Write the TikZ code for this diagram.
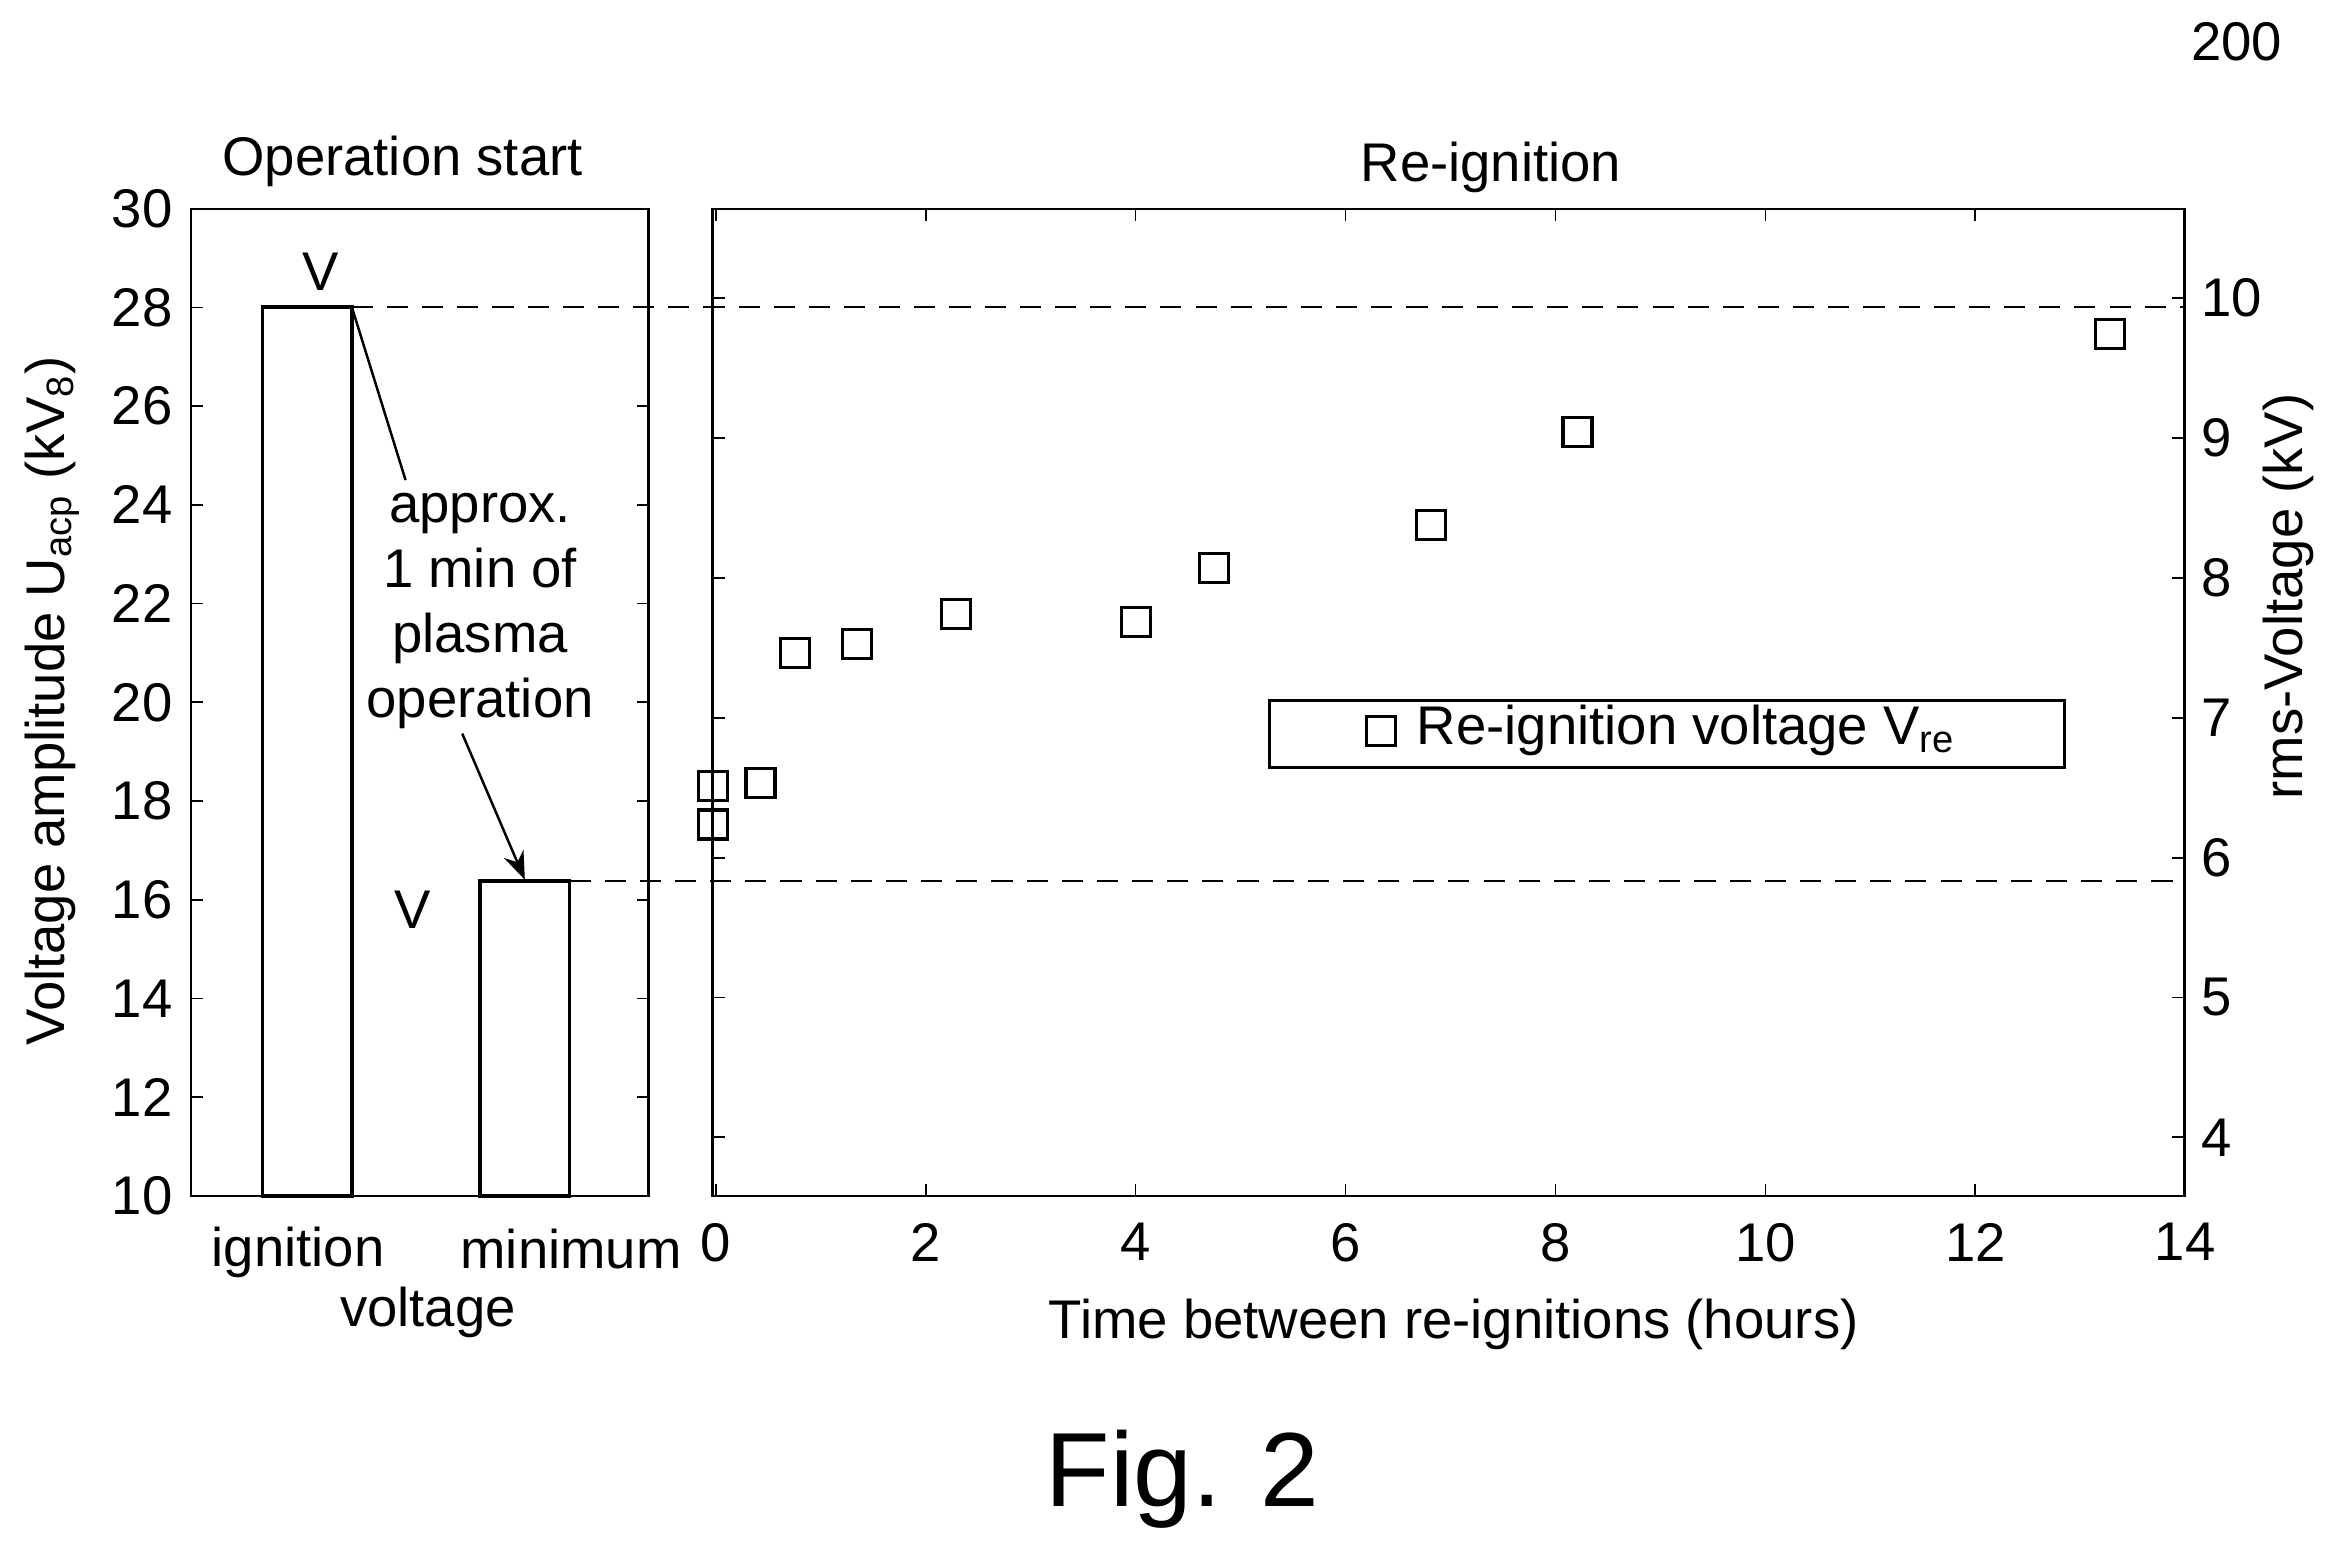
\documentclass[tikz,border=0pt]{standalone}
\usepackage{fontspec}
\setmainfont{Liberation Sans}
\usetikzlibrary{arrows.meta}
\begin{document}
\begin{tikzpicture}[x=0.01491cm,y=-0.01491cm,font=\fontsize{15.5}{18.5}\selectfont]
  \tikzset{
    frame/.style={line width=0.7pt},
    bar/.style={line width=1pt},
    guide/.style={dashed,line width=0.5pt,dash pattern=on 6pt off 4pt},
    pt/.style={draw,line width=0.9pt,minimum size=0.29cm,inner sep=0pt,rectangle},
    tick/.style={line width=0.5pt}
  }
  \useasboundingbox (0,0) rectangle (1560,1035);
  % frames
  \draw[frame] (128,140) rectangle (435,802);
  \draw[frame] (478,140) rectangle (1465,802);
  % left axis ticks and labels
  \foreach \v in {10,12,...,30}{
    \draw[tick] (128,{802-(\v-10)*33.1}) -- ++(8,0);
    \draw[tick] (435,{802-(\v-10)*33.1}) -- ++(-8,0);
    \node[anchor=east] (l\v) at (124,{802-(\v-10)*33.1}) {\v};
  }
  % bottom axis ticks and labels
  \foreach \t in {0,2,...,14}{
    \draw[tick] ({480+\t*70.4},802) -- ++(0,-8);
    \draw[tick] ({480+\t*70.4},140) -- ++(0,8);
    \node[anchor=north] (b\t) at ({480+\t*70.4},812) {\t};
  }
  % right axis ticks and labels
  \foreach \r in {4,...,10}{
    \draw[tick] (1465,{200+(10-\r)*93.8}) -- ++(-8,0);
    \draw[tick] (478,{200+(10-\r)*93.8}) -- ++(8,0);
    \node[anchor=west] (r\r) at (1468,{200+(10-\r)*93.8}) {\r};
  }
  % bars
  \draw[bar] (176,802) rectangle (236,206);
  \draw[bar] (322,802) rectangle (382,591);
  % dashed guides
  \draw[guide] (236,206) -- (1465,206);
  \draw[guide] (382,591) -- (1465,591);
  % data points
  \foreach \x/\y in {478/527,478/553,510/525,533/438,575/432,641/412,762/417,814/381,960/352,1058/290,1415/224}
    \node[pt] at (\x,\y) {};
  % legend
  \node[draw,line width=0.8pt,minimum width=7.95cm,minimum height=0.67cm] (leg) at (1118,492) {};
  \node[pt] (legpt) at (926,490) {};
  \node[anchor=west] (legtxt) at (942,490) {Re-ignition voltage V\textsubscript{re}};
  % titles and axis labels
  \node (opstart) at (270,108) {Operation start};
  \node (reign) at (1000,112) {Re-ignition};
  \node (num) at (1500,28) {200};
  \node[rotate=90] (ylab) at (35,470) {Voltage amplitude U\textsubscript{acp} (kV\textsubscript{8})};
  \node[rotate=90] (rlab) at (1535,400) {rms-Voltage (kV)};
  \node (xlab) at (975,888) {Time between re-ignitions (hours)};
  \node (ign) at (200,840) {ignition};
  \node (mini) at (383,838) {minimum};
  \node (volt) at (287,880) {voltage};
  \node (v1) at (215,182) {V};
  \node (v2) at (277,610) {V};
  \node[align=center] (note) at (322,410) {approx.\\1 min of\\plasma\\operation};
  \node[font=\fontsize{30}{34}\selectfont] (fig) at (793,992) {Fig. 2};
  % annotation connectors
  \coordinate (top1) at (236,206);
  \coordinate (end1) at (272,322);
  \coordinate (start2) at (310,492);
  \coordinate (top2) at (352,590);
  \draw[line width=0.7pt] (top1) -- (end1);
  \draw[line width=0.7pt,-{Stealth[length=8pt]}] (start2) -- (top2);
\end{tikzpicture}
\end{document}
